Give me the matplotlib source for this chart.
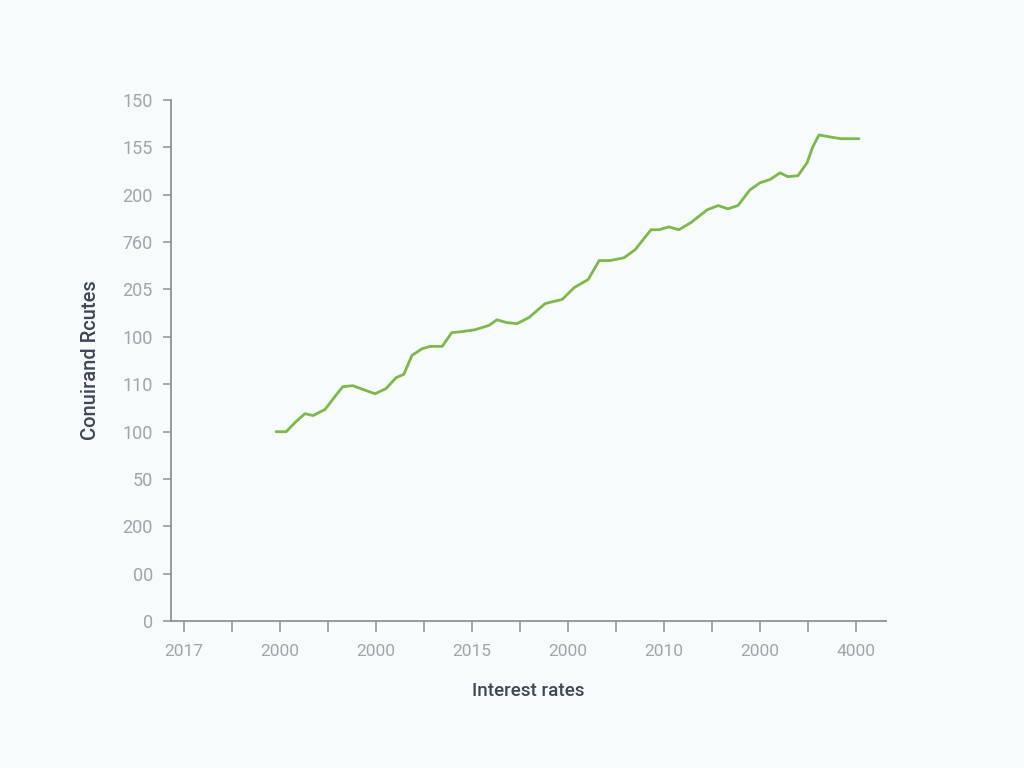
import matplotlib.pyplot as plt

# tick labels as printed on the chart (bottom to top / left to right)
y_labels = ["0", "00", "200", "50", "100", "110", "100", "205", "760", "200", "155", "150"]
x_labels = ["2017", "2000", "2000", "2015", "2000", "2010", "2000", "4000"]

# line, in tick units (x: 0..14 with labels on even ticks, y: 0..11)
x_vals = [1.92, 2.13, 2.33, 2.52, 2.69, 2.94, 3.19, 3.31, 3.52, 3.73, 3.98, 4.21, 4.42, 4.58,
          4.75, 4.96, 5.13, 5.38, 5.58, 5.79, 6.06, 6.35, 6.52, 6.73, 6.94, 7.19, 7.52, 7.67,
          7.88, 8.13, 8.42, 8.65, 8.88, 9.17, 9.40, 9.73, 9.90, 10.10, 10.31, 10.56, 10.90,
          11.13, 11.33, 11.54, 11.79, 12.00, 12.21, 12.42, 12.58, 12.79, 12.98, 13.10, 13.23,
          13.44, 13.69, 14.06]
y_vals = [4.00, 4.00, 4.21, 4.38, 4.34, 4.47, 4.80, 4.95, 4.97, 4.89, 4.80, 4.91, 5.14, 5.21,
          5.61, 5.75, 5.80, 5.80, 6.09, 6.11, 6.15, 6.24, 6.36, 6.30, 6.28, 6.41, 6.70, 6.74,
          6.79, 7.04, 7.21, 7.61, 7.61, 7.67, 7.84, 8.26, 8.26, 8.32, 8.26, 8.41, 8.68, 8.77,
          8.70, 8.77, 9.10, 9.25, 9.32, 9.46, 9.38, 9.40, 9.67, 10.01, 10.26, 10.22, 10.18,
          10.18]

bg = "#f7fbfb"
tick_col = "#a0a5ab"
spine_col = "#8d9297"
label_col = "#3d4756"

plt.rcParams["font.family"] = ["Roboto", "DejaVu Sans"]

fig = plt.figure(figsize=(10.24, 7.68), dpi=100, facecolor=bg)
ax = fig.add_axes([0.167, 0.191, 0.698, 0.679], facecolor=bg)

ax.plot(x_vals, y_vals, color="#7cb84a", linewidth=2.0, solid_capstyle="round")

ax.set_xlim(-0.27, 14.62)
ax.set_ylim(0, 11)

ax.set_yticks(range(len(y_labels)))
ax.set_yticklabels(y_labels)
ax.set_xticks(range(0, 15))
ax.set_xticklabels([x_labels[i // 2] if i % 2 == 0 else "" for i in range(15)])

for s in ["top", "right"]:
    ax.spines[s].set_visible(False)
for s in ["left", "bottom"]:
    ax.spines[s].set_color(spine_col)
    ax.spines[s].set_linewidth(1.3)

ax.tick_params(axis="y", length=6, width=1.1, color=spine_col, labelcolor=tick_col,
               labelsize=13, pad=7)
ax.tick_params(axis="x", length=8, width=1.1, color=spine_col, labelcolor=tick_col,
               labelsize=12.5, pad=8)

ax.set_xlabel("Interest rates", fontsize=13.5, fontweight="medium", color=label_col,
              labelpad=17)
ax.set_ylabel("Conuirand Rcutes", fontsize=14.5, fontweight="medium", color=label_col,
              labelpad=16)

fig.savefig("out.png", dpi=100, facecolor=bg)
